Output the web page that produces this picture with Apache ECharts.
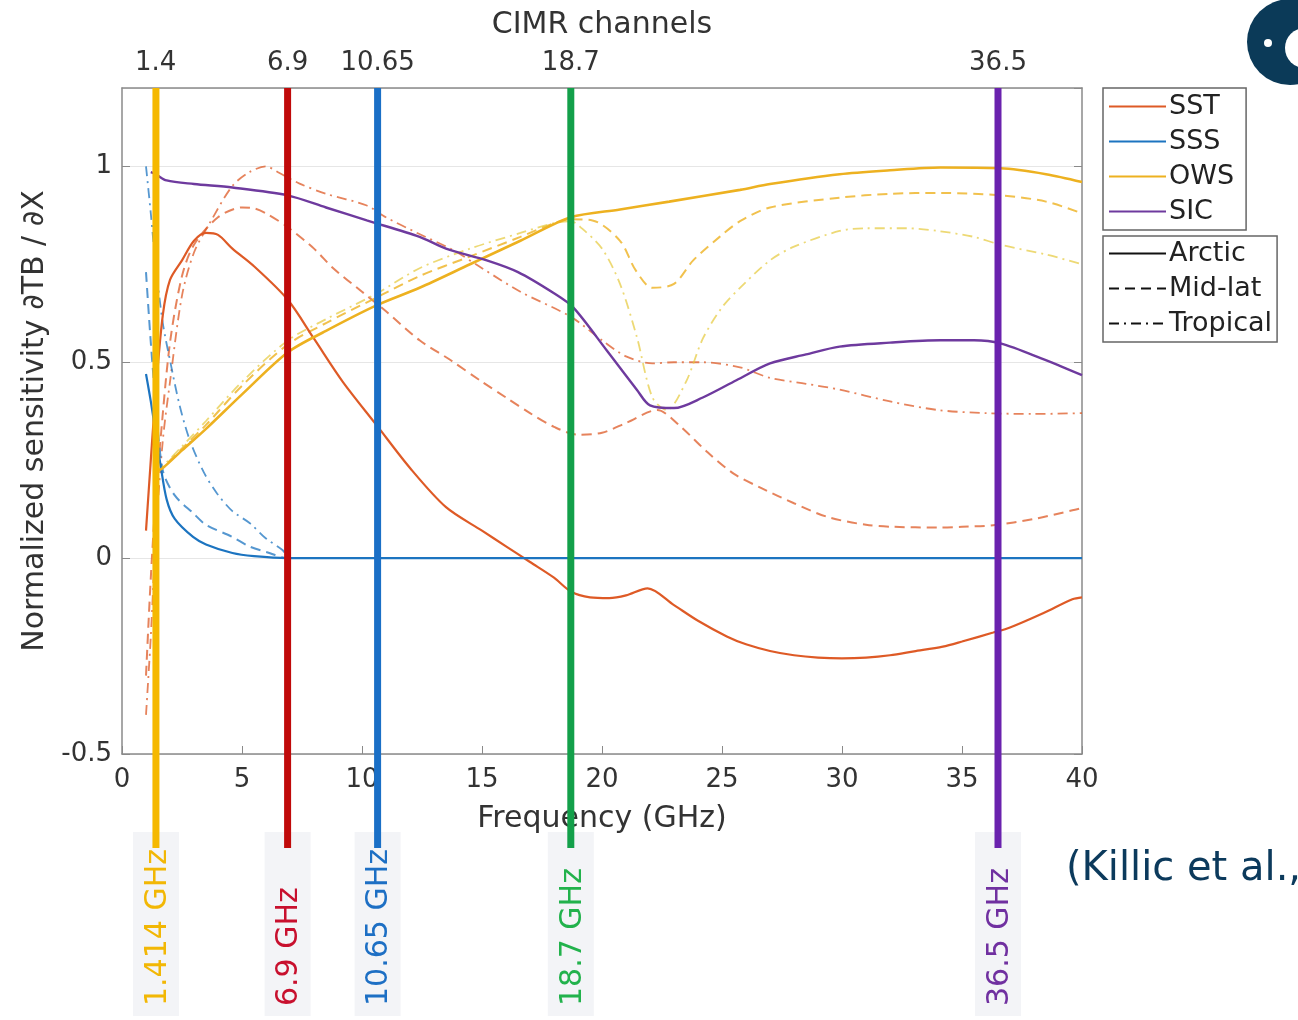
<!DOCTYPE html>
<html><head><meta charset="utf-8">
<script src="https://cdn.jsdelivr.net/npm/echarts@6/dist/echarts.min.js"></script>
<style>html,body{margin:0;padding:0;background:#fff}#c{width:1298px;height:1020px}</style>
</head><body><div id="c"></div>
<script>
// ---------- data ----------
const channels = [1.414, 6.9, 10.65, 18.7, 36.5];
const channelLabels = ['1.414 GHz', '6.9 GHz', '10.65 GHz', '18.7 GHz', '36.5 GHz'];
const topTicks = [1.4, 6.9, 10.65, 18.7, 36.5];
const xTicks = [0, 5, 10, 15, 20, 25, 30, 35, 40];

const sstArctic = [[1.0,0.07],[1.2,0.25],[1.4,0.42],[1.7,0.62],[2.0,0.71],[2.5,0.76],[3.0,0.81],[3.5,0.83],[4.0,0.825],[4.6,0.79],[5.5,0.745],[6.9,0.66],[8.0,0.56],[9.2,0.45],[10.6,0.34],[12.0,0.23],[13.5,0.13],[15,0.07],[16,0.03],[17,-0.01],[18,-0.05],[18.7,-0.085],[19.5,-0.1],[20.3,-0.102],[21,-0.095],[21.9,-0.077],[23,-0.12],[24,-0.16],[25.2,-0.2],[26,-0.22],[27,-0.237],[28,-0.248],[29,-0.254],[30,-0.256],[31,-0.254],[32,-0.248],[33,-0.238],[34.2,-0.226],[35,-0.213],[36.3,-0.19],[37,-0.177],[38.4,-0.14],[39.6,-0.105],[40,-0.1]];
const sstMidlat = [[1.0,-0.3],[1.2,-0.05],[1.4,0.15],[1.6,0.3],[2.0,0.55],[2.5,0.72],[3.0,0.8],[4.0,0.87],[5.0,0.895],[5.5,0.893],[6.0,0.88],[6.9,0.845],[8.0,0.79],[8.8,0.74],[10,0.68],[11,0.63],[12.4,0.556],[13.7,0.505],[15,0.45],[16,0.41],[17,0.37],[18,0.335],[19,0.315],[20,0.32],[21,0.345],[22.3,0.378],[23.2,0.34],[24.4,0.27],[25.5,0.215],[26.6,0.18],[28,0.14],[29.4,0.105],[31,0.085],[32.1,0.08],[34,0.078],[35,0.08],[36.3,0.084],[38,0.1],[39.6,0.122],[40,0.128]];
const sstTropical = [[1.0,-0.4],[1.2,-0.2],[1.4,0.05],[1.7,0.3],[2.0,0.45],[2.5,0.67],[3.0,0.78],[3.7,0.86],[4.6,0.95],[5.3,0.985],[6.0,1.0],[6.5,0.985],[7.4,0.956],[8.5,0.93],[10.2,0.9],[11,0.87],[12.3,0.83],[13.8,0.786],[15,0.74],[16.6,0.68],[18.7,0.616],[20,0.556],[21,0.515],[22.1,0.497],[23,0.5],[24.2,0.5],[25.75,0.487],[27,0.46],[28.5,0.445],[29.9,0.43],[32,0.4],[34,0.378],[36,0.37],[38,0.368],[40,0.37]];

const sssArctic = [[1.0,0.47],[1.2,0.4],[1.4,0.32],[1.6,0.24],[1.86,0.15],[2.2,0.1],[2.96,0.054],[3.5,0.035],[4.6,0.013],[5.5,0.005],[6.9,0],[40,0]];
const sssMidlat = [[1.0,0.73],[1.2,0.55],[1.4,0.4],[1.7,0.224],[2.2,0.16],[2.96,0.115],[3.5,0.085],[4.6,0.054],[5.3,0.03],[6.04,0.015],[6.9,0],[40,0]];
const sssTropical = [[1.0,1.0],[1.2,0.88],[1.4,0.75],[1.7,0.6],[2.0,0.505],[2.4,0.39],[2.83,0.3],[3.4,0.22],[3.96,0.165],[4.6,0.12],[5.33,0.089],[6.0,0.05],[6.7,0.02],[6.9,0],[40,0]];

const owsArctic = [[1.4,0.22],[1.7,0.23],[2.5,0.275],[3.5,0.33],[5,0.418],[6.9,0.525],[8.5,0.58],[10.6,0.645],[12.4,0.69],[14.5,0.75],[16.6,0.81],[18.7,0.87],[20.75,0.89],[22.8,0.91],[25.75,0.94],[27,0.955],[29.9,0.98],[32,0.99],[34.1,0.997],[36.6,0.995],[38.5,0.98],[40,0.96]];
const owsMidlat = [[1.4,0.22],[1.7,0.232],[2.5,0.28],[3.5,0.34],[5,0.44],[6.9,0.545],[8.5,0.6],[10.6,0.665],[12.4,0.72],[14.5,0.77],[16.6,0.82],[18,0.855],[18.7,0.865],[19.6,0.862],[20.75,0.81],[21.4,0.735],[22.1,0.69],[23,0.7],[23.8,0.76],[24.9,0.82],[25.75,0.86],[27,0.895],[29.9,0.92],[32,0.93],[34.1,0.932],[36.6,0.926],[38.5,0.91],[40,0.88]];
const owsTropical = [[1.4,0.22],[1.7,0.235],[2.5,0.285],[3.5,0.35],[5,0.45],[6.9,0.555],[8.5,0.61],[10.6,0.675],[12.4,0.74],[14.5,0.79],[16.6,0.83],[18,0.855],[18.7,0.86],[19.1,0.845],[20.0,0.79],[20.75,0.7],[21.45,0.565],[22.1,0.41],[22.7,0.378],[23.5,0.45],[24.2,0.56],[25,0.64],[25.75,0.69],[27,0.76],[28,0.795],[29.9,0.835],[31,0.842],[32.7,0.842],[34,0.835],[35.5,0.82],[36.6,0.8],[38.5,0.775],[40,0.75]];

const sicArctic = [[1.2,0.985],[1.4,0.98],[1.86,0.964],[3,0.955],[4.6,0.946],[6.9,0.926],[8.5,0.895],[10.2,0.862],[12.4,0.82],[13.5,0.79],[15.2,0.76],[16.5,0.73],[18,0.676],[18.8,0.64],[20.2,0.53],[21.45,0.43],[22,0.39],[23,0.383],[24.2,0.41],[25.6,0.454],[27,0.497],[28.5,0.52],[29.9,0.54],[32,0.55],[34.1,0.556],[35.5,0.556],[36.6,0.548],[38.3,0.51],[40,0.467]];

// ---------- style ----------
const C = { SST: '#DE5A26', SSS: '#1C74C0', OWS: '#EDB120', SIC: '#6E3A9E' };
const chanColors = ['#F5B800', '#C00A0A', '#1A6FC6', '#13A04A', '#6A22AE'];
const chanLabelColors = ['#F2B705', '#C8102E', '#1D6FC4', '#22B24C', '#7030A0'];
const DASH = [10, 6];
const DASHDOT = [10, 5, 2, 5];
const FONT = 'DejaVu Sans';
const AX = '#8a8a8a';
const TXT = '#333333';

function curve(name, data, color, type, width, opacity) {
  return {
    name: name, type: 'line', data: data, xAxisIndex: 0, yAxisIndex: 0,
    symbol: 'none', smooth: 0.3, silent: true, z: 3,
    lineStyle: { color: color, width: width, type: type, opacity: opacity }
  };
}
function legendDummy(name, color, type) {
  return { name: name, type: 'line', data: [], xAxisIndex: 0, yAxisIndex: 0, symbol: 'none',
    itemStyle: { color: color }, lineStyle: { color: color, width: 2.2, type: type } };
}

const series = [
  curve('SST Mid-lat', sstMidlat, C.SST, DASH, 2, 0.75),
  curve('SST Tropical', sstTropical, C.SST, DASHDOT, 1.8, 0.75),
  curve('SSS Mid-lat', sssMidlat, C.SSS, DASH, 2, 0.75),
  curve('SSS Tropical', sssTropical, C.SSS, DASHDOT, 1.8, 0.75),
  curve('OWS Mid-lat', owsMidlat, C.OWS, DASH, 2, 0.8),
  curve('OWS Tropical', owsTropical, '#E6C93A', DASHDOT, 1.8, 0.7),
  curve('SST Arctic', sstArctic, C.SST, 'solid', 2.2, 1),
  curve('SSS Arctic', sssArctic, C.SSS, 'solid', 2.2, 1),
  curve('OWS Arctic', owsArctic, C.OWS, 'solid', 2.6, 1),
  curve('SIC Arctic', sicArctic, C.SIC, 'solid', 2.4, 1),
  legendDummy('SST', C.SST, 'solid'),
  legendDummy('SSS', C.SSS, 'solid'),
  legendDummy('OWS', C.OWS, 'solid'),
  legendDummy('SIC', C.SIC, 'solid'),
  legendDummy('Arctic', '#111', 'solid'),
  legendDummy('Mid-lat', '#111', DASH),
  legendDummy('Tropical', '#111', DASHDOT)
];
channels.forEach(function (c, i) {
  series.push({
    name: 'ch' + i, type: 'line', xAxisIndex: 2, yAxisIndex: 2, data: [[c, 0], [c, 1]],
    symbol: 'none', silent: true, z: 6, lineStyle: { color: chanColors[i], width: 7 }
  });
});

const legendCommon = {
  orient: 'vertical', selectedMode: false, borderColor: '#666', borderWidth: 1.5,
  itemWidth: 57, itemHeight: 14, itemGap: 8,
  itemStyle: { color: 'rgba(0,0,0,0)', borderColor: 'rgba(0,0,0,0)', borderWidth: 0 },
  textStyle: { fontSize: 27, color: '#222', fontFamily: FONT, padding: [0, 0, 0, -2] }
};

const chart = echarts.init(document.getElementById('c'), null, { renderer: 'canvas' });
const option = {
  animation: false,
  backgroundColor: '#ffffff',
  textStyle: { fontFamily: FONT },
  grid: [
    { left: 122, top: 88, width: 960, height: 666, show: false },
    { left: 122, top: 88, width: 960, height: 760, show: false }
  ],
  xAxis: [
    { type: 'value', gridIndex: 0, position: 'bottom', min: 0, max: 40, interval: 5,
      name: 'Frequency (GHz)', nameLocation: 'middle', nameGap: 50,
      nameTextStyle: { fontSize: 30, color: TXT, fontFamily: FONT },
      axisLine: { onZero: false, lineStyle: { color: AX, width: 1.5 } },
      axisTick: { inside: true, length: 8, lineStyle: { color: AX } },
      axisLabel: { fontSize: 26, color: TXT, margin: 13, fontFamily: FONT },
      splitLine: { show: false } },
    { type: 'value', gridIndex: 0, position: 'top', min: 0, max: 40,
      name: 'CIMR channels', nameLocation: 'middle', nameGap: 48,
      nameTextStyle: { fontSize: 30, color: TXT, fontFamily: FONT },
      axisLine: { onZero: false, lineStyle: { color: AX, width: 1.5 } },
      axisTick: { inside: true, length: 8, customValues: topTicks, lineStyle: { color: AX } },
      axisLabel: { fontSize: 26, color: TXT, margin: 12, customValues: topTicks, fontFamily: FONT },
      splitLine: { show: false } },
    { type: 'value', gridIndex: 1, min: 0, max: 40, show: false }
  ],
  yAxis: [
    { type: 'value', gridIndex: 0, position: 'left', min: -0.5, max: 1.2, interval: 0.5,
      name: 'Normalized sensitivity \u2202TB / \u2202X', nameLocation: 'middle', nameGap: 72,
      nameTextStyle: { fontSize: 30, color: TXT, fontFamily: FONT },
      axisLine: { show: true, onZero: false, lineStyle: { color: AX, width: 1.5 } },
      axisTick: { show: true, inside: true, length: 8, lineStyle: { color: AX } },
      axisLabel: { fontSize: 26, color: TXT, margin: 10, showMaxLabel: false, fontFamily: FONT,
        formatter: function (v) { return v > 1.1 ? '' : String(v); } },
      splitLine: { show: true, lineStyle: { color: '#e6e6e6', width: 1 } } },
    { type: 'value', gridIndex: 0, position: 'right', min: -0.5, max: 1.2, interval: 0.5,
      axisLine: { show: true, onZero: false, lineStyle: { color: AX, width: 1.5 } },
      axisTick: { show: true, inside: true, length: 8, lineStyle: { color: AX } },
      axisLabel: { show: false }, splitLine: { show: false } },
    { type: 'value', gridIndex: 1, min: 0, max: 1, show: false }
  ],
  legend: [
    Object.assign({}, legendCommon, { data: ['SST', 'SSS', 'OWS', 'SIC'], left: 1103, top: 88,
      padding: [5, 12, 5, 5] }),
    Object.assign({}, legendCommon, { data: ['Arctic', 'Mid-lat', 'Tropical'], left: 1103, top: 236,
      padding: [4, 5, 5, 5] })
  ],
  series: series
};
chart.setOption(option);

// channel labels below the plot, positioned through the x scale
const gfx = [];
channels.forEach(function (c, i) {
  const px = chart.convertToPixel({ xAxisIndex: 0 }, c);
  gfx.push({ type: 'rect', silent: true, z: 1,
    shape: { x: px - 23, y: 832, width: 46, height: 184 }, style: { fill: '#f3f4f7' } });
  gfx.push({ type: 'text', silent: true, z: 10, x: px + 2, y: 1006, rotation: Math.PI / 2,
    style: { text: channelLabels[i], fill: chanLabelColors[i], fontSize: 30, fontFamily: FONT,
      align: 'left', verticalAlign: 'middle' } });
});
// citation text
gfx.push({ type: 'text', silent: true, z: 10, x: 1066, y: 870,
  style: { text: '(Killic et al., 2023)', fill: '#0c3a5c', fontSize: 40, fontFamily: FONT,
    align: 'left', verticalAlign: 'middle' } });
// logo
gfx.push({ type: 'circle', silent: true, z: 10, shape: { cx: 1290, cy: 42, r: 43 }, style: { fill: '#0b3a58' } });
gfx.push({ type: 'circle', silent: true, z: 11, shape: { cx: 1305, cy: 48, r: 20 }, style: { fill: '#ffffff' } });
gfx.push({ type: 'circle', silent: true, z: 11, shape: { cx: 1268, cy: 43, r: 4 }, style: { fill: '#ffffff' } });
chart.setOption({ graphic: gfx });
</script>
</body></html>
